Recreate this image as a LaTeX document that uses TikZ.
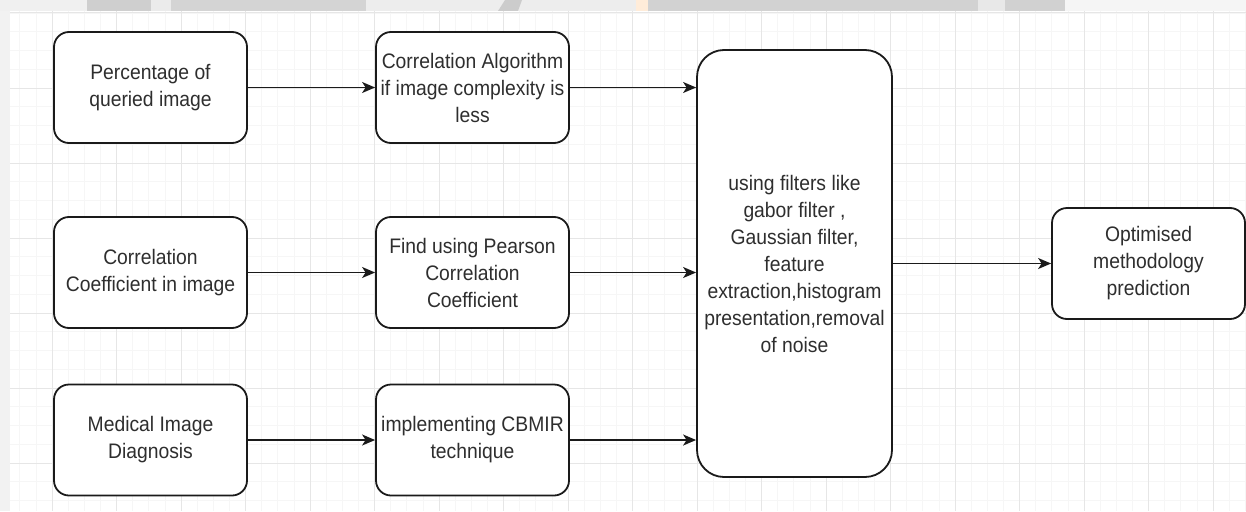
\documentclass[tikz,border=0pt]{standalone}
\usepackage{fontspec}
\setmainfont{Liberation Sans}[FakeStretch=0.92]
\usetikzlibrary{arrows.meta}
\definecolor{txt}{HTML}{2E2E2E}
\definecolor{edge}{HTML}{1A1A1A}
\definecolor{gridmajor}{HTML}{E6E6E6}
\definecolor{gridminor}{HTML}{F6F6F6}
\begin{document}
\begin{tikzpicture}[x=1pt,y=-1pt,
  box/.style={draw=edge, line width=1.8pt, fill=white, rounded corners=15pt,
    minimum width=193pt, minimum height=111pt, align=center, text=txt,
    inner sep=2pt, font=\fontsize{21}{27}\selectfont},
  bigbox/.style={box, rounded corners=27pt, minimum width=195pt, minimum height=427pt},
  link/.style={draw=edge, line width=1.7pt, -{Stealth[length=13pt,width=11pt,inset=3.5pt]}}]

  % page frame
  \useasboundingbox (0,0) rectangle (1246,511);
  \fill[white] (0,0) rectangle (1246,511);

  % window strip along the top edge
  \fill[gray!12] (0,0) rectangle (1246,11);
  \fill[gray!38] (87,0) rectangle (151,11);
  \fill[gray!16] (151,0) rectangle (171,11);
  \fill[gray!34] (171,0) rectangle (366,11);
  \fill[gray!14] (366,0) rectangle (636,11);
  \fill[gray!40] (505,0) -- (522,0) -- (518,11) -- (498,11) -- cycle;
  \fill[orange!15] (636,0) rectangle (648,11);
  \fill[gray!35] (648,0) rectangle (978,11);
  \fill[gray!18] (978,0) rectangle (1005,11);
  \fill[gray!36] (1005,0) rectangle (1065,11);
  \fill[gray!8] (1065,0) rectangle (1246,11);

  % side margin
  \fill[gray!10] (0,11) rectangle (10,511);

  % canvas grid
  \begin{scope}
    \clip (10,11) rectangle (1246,511);
    \foreach \i in {-3,...,76} {
      \draw[gridminor, line width=0.6pt] ({52+16.125*\i},11) -- ({52+16.125*\i},511);
    }
    \foreach \j in {0,...,27} {
      \draw[gridminor, line width=0.6pt] (10,{13+18.75*\j}) -- (1246,{13+18.75*\j});
    }
    \foreach \i in {0,...,19} {
      \draw[gridmajor, line width=1pt] ({52+64.5*\i},11) -- ({52+64.5*\i},511);
    }
    \foreach \j in {0,...,6} {
      \draw[gridmajor, line width=1pt] (10,{13+75*\j}) -- (1246,{13+75*\j});
    }
  \end{scope}

  % first column
  \node[box] (pct)  at (150.5,87.5)  {Percentage of\\queried image};
  \node[box] (coef) at (150.5,272.5) {Correlation\\Coefficient in image};
  \node[box] (med)  at (150.5,440)   {Medical Image\\Diagnosis};

  % second column
  \node[box] (alg)  at (472.5,87.5)  {Correlation Algorithm\\if image complexity is\\less};
  \node[box] (pear) at (472.5,272.5) {Find using Pearson\\Correlation\\Coefficient};
  \node[box] (cbm)  at (472.5,440)   {implementing CBMIR\\technique};

  % filtering stage
  \node[bigbox] (filt) at (794.5,263.5) {using filters like\\gabor filter ,\\Gaussian filter,\\feature\\extraction,histogram\\presentation,removal\\of noise};

  % result
  \node[box] (opt) at (1148.5,263.5) {Optimised\\methodology\\prediction};

  % connectors
  \draw[link] (pct) -- (alg);
  \draw[link] (coef) -- (pear);
  \draw[link] (med) -- (cbm);
  \draw[link] (alg.east) -- (alg.east -| filt.west);
  \draw[link] (pear.east) -- (pear.east -| filt.west);
  \draw[link] (cbm.east) -- (cbm.east -| filt.west);
  \draw[link] (filt) -- (opt);
\end{tikzpicture}
\end{document}
